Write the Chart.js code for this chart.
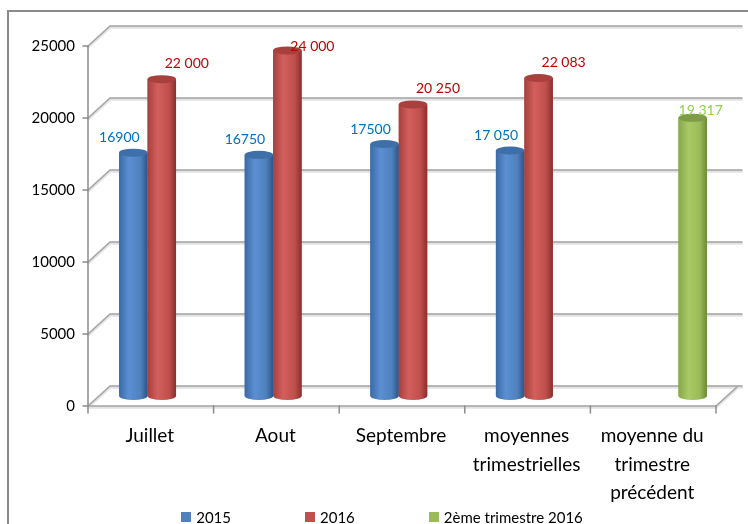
<!DOCTYPE html>
<html>
<head>
<meta charset="utf-8">
<script src="https://cdn.jsdelivr.net/npm/chart.js@4"></script>
<style>
body{margin:0;background:#fff;font-family:Lato,"Open Sans",sans-serif;}
#wrap{position:relative;width:748px;height:524px;overflow:hidden;}
#frame{position:absolute;left:7px;top:10px;width:800px;height:600px;border:2px solid #8a8a8a;}
#chart{position:absolute;left:0;top:0;}
#legend{position:absolute;left:16px;right:0;top:508px;display:flex;justify-content:center;gap:74px;font-size:15px;color:#000;}
#legend span{display:flex;align-items:center;}
#legend i{display:inline-block;width:10px;height:10px;margin-right:5px;}
</style>
</head>
<body>
<div id="wrap">
  <div id="frame"></div>
  <canvas id="chart" width="748" height="524"></canvas>
  <div id="legend"></div>
</div>
<script>
const categories=["Juillet","Aout","Septembre",["moyennes","trimestrielles"],["moyenne du","trimestre","précédent"]];
const seriesNames=["2015","2016","2ème trimestre 2016"];
const values2015=[16900,16750,17500,17050,null];
const values2016=[22000,24000,20250,22083,null];
const valuesT2=[null,null,null,null,19317];
const text2015=["16900","16750","17500","17 050",null];
const text2016=["22 000","24 000","20 250","22 083",null];
const textT2=[null,null,null,null,"19 317"];
const yTicks=[0,5000,10000,15000,20000,25000];
const yTickLabels=["0","5000","10000","15000","20000","25000"];

const colors=["#4f81bd","#c0504d","#9bbb59"];
const labelColors=["#0070c0","#c00000","#92d050"];
const shades=[
  {edge:"#3b6aa5",light:"#5b8fd2",dark:"#2c5487",top:"#3f6fa9"},
  {edge:"#a6403d",light:"#d25f5c",dark:"#8a2f2d",top:"#a8403d"},
  {edge:"#86a64a",light:"#a8c966",dark:"#6b8838",top:"#7e9b45"}
];
const labelOff=[{dx:-14,dy:-15},{dx:25,dy:-16},{dx:8,dy:-7}];
const depth={dx:11,dy:10};
const font="Lato, 'Open Sans', sans-serif";

const wall3d={
  id:"wall3d",
  beforeDatasetsDraw(chart){
    const {ctx,chartArea:a,scales:{x,y}}=chart;
    const dx=depth.dx,dy=depth.dy;
    ctx.save();
    ctx.lineCap="round";
    yTicks.forEach(v=>{
      const py=y.getPixelForValue(v);
      [["#e2e2e2",2.5,1.6],["#a3a3a3",1.5,0]].forEach(([c,w,o])=>{
        ctx.strokeStyle=c;ctx.lineWidth=w;
        ctx.beginPath();
        ctx.moveTo(a.left-dx,py+dy+o);
        ctx.lineTo(a.left+dx,py-dy+o);
        ctx.lineTo(a.right+dx+4,py-dy+o);
        ctx.stroke();
      });
      // tick mark on the front axis
      ctx.strokeStyle="#8c8c8c";ctx.lineWidth=1.5;
      ctx.beginPath();
      ctx.moveTo(a.left-dx-5,py+dy);ctx.lineTo(a.left-dx,py+dy);
      ctx.stroke();
    });
    const fy=a.bottom+dy;
    [["#e2e2e2",2.5,1.6],["#a3a3a3",1.5,0]].forEach(([c,w,o])=>{
      ctx.strokeStyle=c;ctx.lineWidth=w;
      ctx.beginPath();
      ctx.moveTo(a.left-dx,fy+o);
      ctx.lineTo(a.right-dx,fy+o);
      ctx.lineTo(a.right+dx,a.bottom-dy+o);
      ctx.stroke();
    });
    ctx.strokeStyle="#8c8c8c";ctx.lineWidth=1.5;
    ctx.beginPath();
    ctx.moveTo(a.left-dx,y.getPixelForValue(25000)+dy);
    ctx.lineTo(a.left-dx,fy);
    ctx.stroke();
    const step=x.getPixelForValue(1)-x.getPixelForValue(0);
    for(let i=0;i<=categories.length;i++){
      const px=x.getPixelForValue(0)-step/2+i*step-dx;
      ctx.beginPath();
      ctx.moveTo(px,fy);ctx.lineTo(px,fy+7);
      ctx.stroke();
    }
    ctx.restore();
  }
};

const cylinders={
  id:"cylinders",
  afterDatasetsDraw(chart){
    const {ctx,chartArea:a}=chart;
    const texts=[text2015,text2016,textT2];
    ctx.save();
    chart.data.datasets.forEach((ds,di)=>{
      const meta=chart.getDatasetMeta(di);
      const sh=shades[di];
      meta.data.forEach((bar,i)=>{
        if(ds.data[i]==null) return;
        const {x,y,base,width}=bar.getProps(["x","y","base","width"],true);
        const l=x-width/2,r=x+width/2,ry=4;
        const g=ctx.createLinearGradient(l,0,r,0);
        g.addColorStop(0,sh.edge);
        g.addColorStop(0.35,sh.light);
        g.addColorStop(0.75,colors[di]);
        g.addColorStop(1,sh.dark);
        ctx.fillStyle=g;
        ctx.beginPath();
        ctx.moveTo(l,y);
        ctx.lineTo(l,base);
        ctx.ellipse(x,base,width/2,ry,0,Math.PI,0,true);
        ctx.lineTo(r,y);
        ctx.closePath();
        ctx.fill();
        ctx.fillStyle=sh.top;
        ctx.beginPath();
        ctx.ellipse(x,y,width/2,ry,0,0,Math.PI*2);
        ctx.fill();
        // value label
        const t=texts[di][i];
        if(t){
          ctx.fillStyle=labelColors[di];
          ctx.font="14px "+font;
          ctx.textAlign="center";
          ctx.textBaseline="middle";
          const ly=Math.max(y+labelOff[di].dy,a.top+10);
          ctx.fillText(t,x+labelOff[di].dx,ly);
        }
      });
    });
    ctx.restore();
  }
};

const chart=new Chart(document.getElementById("chart"),{
  type:"bar",
  data:{
    labels:categories,
    datasets:[
      {label:seriesNames[0],data:values2015,backgroundColor:colors[0]},
      {label:seriesNames[1],data:values2016,backgroundColor:colors[1]},
      {label:seriesNames[2],data:valuesT2,backgroundColor:colors[2]}
    ]
  },
  options:{
    responsive:false,
    animation:false,
    layout:{padding:{left:0,right:21,top:36,bottom:0}},
    datasets:{bar:{categoryPercentage:0.68,barPercentage:1,skipNull:false}},
    plugins:{legend:{display:false},tooltip:{enabled:false}},
    scales:{
      x:{
        grid:{display:false,drawTicks:false},
        border:{display:false},
        ticks:{color:"#000",font:{family:font,size:19,lineHeight:1.5},padding:26,labelOffset:-12,maxRotation:0,autoSkip:false},
        afterFit(s){s.height=128;}
      },
      y:{
        min:0,max:25000,
        grid:{display:false,drawTicks:false},
        border:{display:false},
        afterBuildTicks(s){s.ticks=yTicks.map(v=>({value:v}));},
        ticks:{color:"#000",font:{family:font,size:15},padding:24,labelOffset:10,
          callback:(v,i)=>yTickLabels[i]},
        afterFit(s){s.width=99;}
      }
    }
  },
  plugins:[wall3d,cylinders]
});

const legend=document.getElementById("legend");
seriesNames.forEach((n,i)=>{
  legend.innerHTML+=`<span><i style="background:${colors[i]}"></i>${n}</span>`;
});
</script>
</body>
</html>
